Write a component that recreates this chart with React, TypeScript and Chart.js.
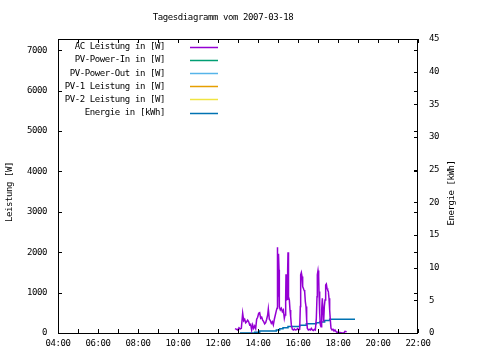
import React, { useEffect, useRef } from "react";
import { Chart, registerables } from "chart.js";

Chart.register(...registerables);

const TITLE = "Tagesdiagramm vom 2007-03-18";
const Y1_TITLE = "Leistung [W]";
const Y2_TITLE = "Energie [kWh]";

const X_TICK_LABELS = ["04:00", "06:00", "08:00", "10:00", "12:00", "14:00", "16:00", "18:00", "20:00", "22:00"];
const Y1_TICKS = [0, 1000, 2000, 3000, 4000, 5000, 6000, 7000];
const Y2_TICKS = [0, 5, 10, 15, 20, 25, 30, 35, 40, 45];

const SERIES_LABELS = [
  "AC Leistung in [W]",
  "PV-Power-In in [W]",
  "PV-Power-Out in [W]",
  "PV-1 Leistung in [W]",
  "PV-2 Leistung in [W]",
  "Energie in [kWh]",
];
const SERIES_COLORS = ["#9400d3", "#009e73", "#56b4e9", "#e69f00", "#f0e442", "#0072b2"];

const AC_TIMES = [
  "12:51", "12:56", "12:59", "13:03", "13:06", "13:10", "13:14", "13:17", "13:20", "13:23",
  "13:26", "13:29", "13:32", "13:35", "13:38", "13:41", "13:44", "13:47", "13:50", "13:53",
  "13:56", "13:59", "14:02", "14:05", "14:08", "14:11", "14:14", "14:17", "14:20", "14:23",
  "14:26", "14:29", "14:31", "14:34", "14:37", "14:40", "14:43", "14:46", "14:49", "14:52",
  "14:55", "14:57", "14:58", "14:59", "15:00", "15:01", "15:02", "15:03", "15:04", "15:07",
  "15:10", "15:13", "15:16", "15:19", "15:21", "15:23", "15:24", "15:25", "15:26", "15:28",
  "15:29", "15:30", "15:31", "15:32", "15:34", "15:36", "15:38", "15:40", "15:43", "15:46",
  "15:49", "15:52", "15:56", "15:59", "16:02", "16:05", "16:07", "16:08", "16:10", "16:12",
  "16:14", "16:16", "16:18", "16:20", "16:22", "16:24", "16:26", "16:28", "16:31", "16:34",
  "16:37", "16:40", "16:43", "16:46", "16:49", "16:52", "16:55", "16:57", "16:58", "17:00",
  "17:02", "17:03", "17:05", "17:07", "17:09", "17:11", "17:13", "17:15", "17:17", "17:19",
  "17:21", "17:23", "17:25", "17:27", "17:29", "17:31", "17:33", "17:35", "17:37", "17:39",
  "17:42", "17:45", "17:48", "17:51", "17:54", "17:57", "18:00", "18:03", "18:06", "18:12",
  "18:18", "18:21", "18:26",
];
const AC_WATT = [
  110, 90, 75, 130, 100, 115, 490, 305, 340, 255,
  280, 320, 280, 200, 215, 75, 200, 115, 175, 110,
  340, 390, 490, 505, 365, 390, 320, 280, 225, 255,
  340, 445, 595, 340, 305, 240, 280, 200, 340, 445,
  555, 610, 2125, 655, 1895, 900, 1960, 1565, 655, 570,
  610, 530, 570, 365, 445, 860, 1455, 1315, 820, 835,
  1565, 2000, 1645, 900, 820, 570, 405, 200, 90, 75,
  100, 75, 85, 110, 75, 90, 655, 1440, 1495, 1400,
  1150, 1110, 1065, 1025, 775, 655, 320, 115, 75, 90,
  75, 115, 75, 60, 90, 75, 365, 900, 1440, 1545,
  1400, 1025, 490, 200, 155, 570, 860, 530, 280, 655,
  820, 1190, 1215, 1110, 1065, 1025, 860, 570, 320, 115,
  75, 90, 50, 75, 35, 15, 25, 10, 10, 0,
  0, 40, 30,
];

const E_TIMES = [
  "13:06", "13:50", "14:05", "14:55", "15:05", "15:15", "15:30", "16:05",
  "16:25", "16:55", "17:05", "17:20", "17:35", "18:51",
];
const E_KWH = [0.0, 0.1, 0.3, 0.45, 0.65, 0.8, 1.0, 1.2, 1.4, 1.55, 1.7, 1.9, 2.1, 2.1];

const toMin = (s: string) => {
  const [h, m] = s.split(":").map(Number);
  return h * 60 + m;
};

const FONT = '9px "DejaVu Sans Mono", monospace';

const gnuplotPlugin = {
  id: "gnuplotDecor",
  afterDraw(chart: any) {
    const ctx = chart.ctx as CanvasRenderingContext2D;
    const { left, right, top, bottom } = chart.chartArea;
    const xs = chart.scales.x;
    const y1 = chart.scales.y;
    const y2 = chart.scales.y2;
    ctx.save();
    ctx.font = FONT;
    (ctx as any).letterSpacing = "-0.4px";
    ctx.fillStyle = "#000";
    ctx.strokeStyle = "#000";
    ctx.lineWidth = 1;

    ctx.strokeRect(Math.round(left) + 0.5, Math.round(top) + 0.5, Math.round(right - left) - 1, Math.round(bottom - top));

    const tl = 4;
    ctx.beginPath();
    for (let h = 4; h <= 22; h++) {
      const px = Math.round(xs.getPixelForValue(h * 60)) + 0.5;
      ctx.moveTo(px, bottom);
      ctx.lineTo(px, bottom - tl);
      ctx.moveTo(px, top);
      ctx.lineTo(px, top + tl);
    }
    Y1_TICKS.forEach((v) => {
      const py = Math.round(y1.getPixelForValue(v)) + 0.5;
      ctx.moveTo(left, py);
      ctx.lineTo(left + tl, py);
      ctx.moveTo(right, py);
      ctx.lineTo(right - tl, py);
    });
    Y2_TICKS.forEach((v) => {
      const py = Math.round(y2.getPixelForValue(v)) + 0.5;
      ctx.moveTo(right, py);
      ctx.lineTo(right - tl, py);
    });
    ctx.stroke();

    ctx.textAlign = "center";
    ctx.textBaseline = "middle";
    X_TICK_LABELS.forEach((lab) => {
      const px = xs.getPixelForValue(toMin(lab));
      ctx.fillText(lab, px, bottom + 11);
    });
    ctx.textAlign = "right";
    Y1_TICKS.forEach((v) => {
      ctx.fillText(String(v), left - 11, y1.getPixelForValue(v));
    });
    ctx.textAlign = "left";
    Y2_TICKS.forEach((v) => {
      ctx.fillText(String(v), right + 11, y2.getPixelForValue(v));
    });

    ctx.textAlign = "center";
    ctx.fillText(TITLE, 223, 18);

    ctx.save();
    ctx.translate(10, 192);
    ctx.rotate(-Math.PI / 2);
    ctx.fillText(Y1_TITLE, 0, 0);
    ctx.restore();
    ctx.save();
    ctx.translate(452, 193);
    ctx.rotate(-Math.PI / 2);
    ctx.fillText(Y2_TITLE, 0, 0);
    ctx.restore();

    chart.data.datasets.forEach((ds: any, i: number) => {
      const y = 47 + i * 13.1;
      ctx.textAlign = "right";
      ctx.fillStyle = "#000";
      ctx.fillText(ds.label, 165, y);
      ctx.strokeStyle = SERIES_COLORS[i];
      ctx.lineWidth = 1.5;
      ctx.beginPath();
      ctx.moveTo(190, Math.round(y) + 0.5);
      ctx.lineTo(218, Math.round(y) + 0.5);
      ctx.stroke();
    });
    ctx.restore();
  },
};

export default function App() {
  const ref = useRef<HTMLCanvasElement | null>(null);
  useEffect(() => {
    if (!ref.current) return;
    const acData = AC_TIMES.map((t, i) => ({ x: toMin(t), y: AC_WATT[i] }));
    const eData = E_TIMES.map((t, i) => ({ x: toMin(t), y: E_KWH[i] }));
    const datasets: any[] = SERIES_LABELS.map((label, i) => ({
      label,
      data: i === 0 ? acData : i === 5 ? eData : [],
      borderColor: SERIES_COLORS[i],
      backgroundColor: SERIES_COLORS[i],
      borderWidth: 1.5,
      pointRadius: 0,
      fill: false,
      tension: 0,
      stepped: i === 5 ? true : false,
      yAxisID: i === 5 ? "y2" : "y",
    }));
    const chart = new Chart(ref.current, {
      type: "line",
      data: { datasets },
      options: {
        responsive: false,
        animation: false,
        devicePixelRatio: 1,
        layout: { padding: { left: 58, right: 62, top: 39, bottom: 27 } },
        plugins: { legend: { display: false }, tooltip: { enabled: false }, title: { display: false } },
        scales: {
          x: { type: "linear", min: 240, max: 1320, display: false },
          y: { type: "linear", min: 0, max: 7280, display: false },
          y2: { type: "linear", min: 0, max: 45, display: false, position: "right" },
        },
      },
      plugins: [gnuplotPlugin],
    });
    return () => chart.destroy();
  }, []);
  return (
    <div style={{ position: "absolute", left: 0, top: 0, width: 480, height: 360, background: "#fff" }}>
      <canvas ref={ref} width={480} height={360} />
    </div>
  );
}
